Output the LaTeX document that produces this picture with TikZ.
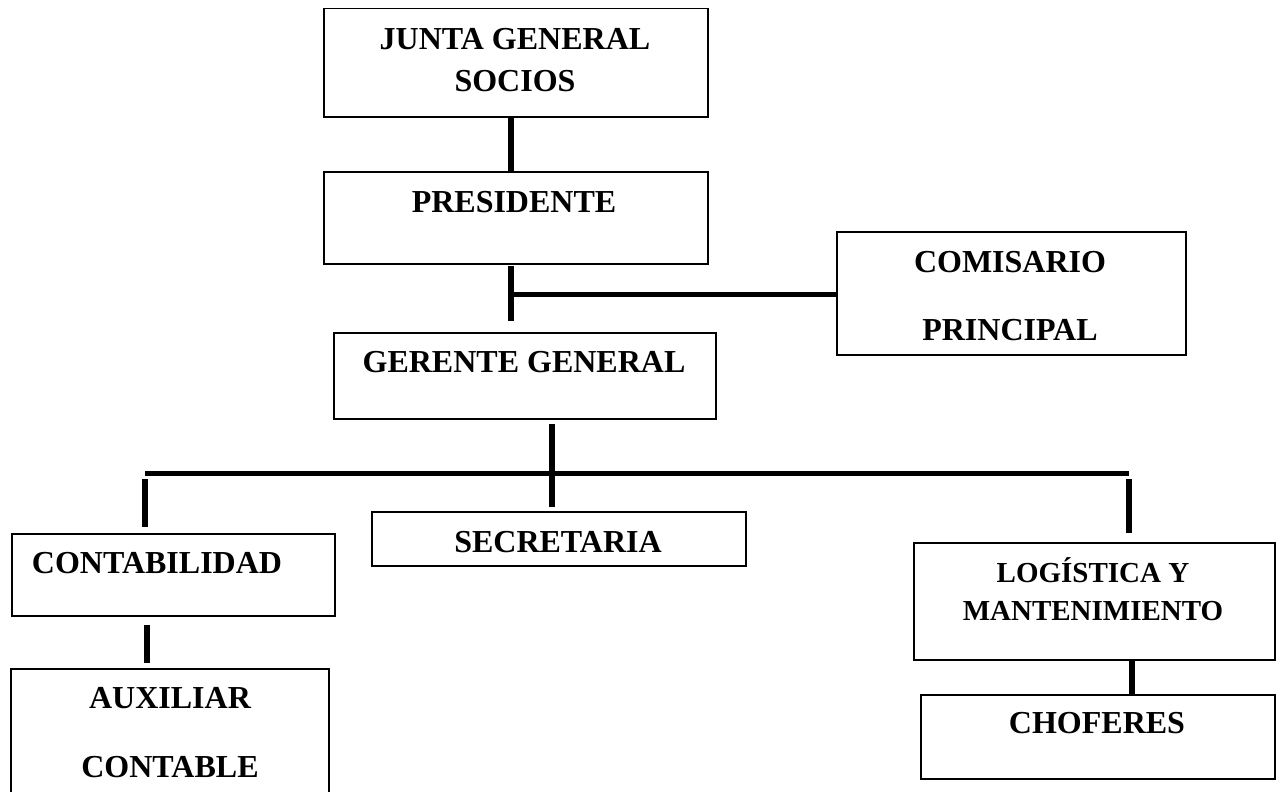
\documentclass[tikz,border=0pt]{standalone}
\usepackage{fontspec}
\setmainfont{Liberation Serif}
\usetikzlibrary{calc}
\begin{document}
\begin{tikzpicture}[x=1pt,y=-1pt]
\tikzset{
  box/.style={draw, line width=1.5pt, inner sep=0pt, anchor=north west},
  lbl/.style={anchor=base, inner sep=0pt, font=\fontsize{32}{36}\selectfont\bfseries},
  lbls/.style={anchor=base, inner sep=0pt, font=\fontsize{29}{33}\selectfont\bfseries},
  conn/.style={line width=5.5pt}
}
\clip (0,0) rectangle (1283,792);
\fill[white] (0,0) rectangle (1283,792);
% boxes
\node[box, minimum width=384pt, minimum height=108pt] (junta) at (323,8) {};
\node[box, minimum width=384pt, minimum height=92pt] (pres) at (323,171) {};
\node[box, minimum width=349pt, minimum height=123pt] (comis) at (836,231) {};
\node[box, minimum width=382pt, minimum height=86pt] (ger) at (333,332) {};
\node[box, minimum width=323pt, minimum height=82pt] (conta) at (11,533) {};
\node[box, minimum width=374pt, minimum height=54pt] (secre) at (371,511) {};
\node[box, minimum width=361pt, minimum height=117pt] (logis) at (913,542) {};
\node[box, minimum width=354pt, minimum height=84pt] (chof) at (920,694) {};
\node[box, minimum width=318pt, minimum height=140pt] (aux) at (10,668) {};
% texts
\node[lbl] (tj1) at (515,50) {JUNTA GENERAL};
\node[lbl] (tj2) at (515,92) {SOCIOS};
\node[lbl] (tp) at (514,212) {PRESIDENTE};
\node[lbl] (tc1) at (1010,272) {COMISARIO};
\node[lbl] (tc2) at (1010,340) {PRINCIPAL};
\node[lbl] (tg) at (524,372) {GERENTE GENERAL};
\node[lbl] (tco) at (157,573) {CONTABILIDAD};
\node[lbl] (ts) at (558,552) {SECRETARIA};
\node[lbls] (tl1) at (1093,582) {LOGÍSTICA Y};
\node[lbls] (tl2) at (1093,620) {MANTENIMIENTO};
\node[lbl] (tch) at (1097,733) {CHOFERES};
\node[lbl] (ta1) at (170,708) {AUXILIAR};
\node[lbl] (ta2) at (170,777) {CONTABLE};
% connector coordinates
\coordinate (xa) at (511,0);
\coordinate (p1) at (511,266);
\coordinate (p2) at (511,321);
\coordinate (pj) at (511,294.5);
\coordinate (g1) at (552,424);
\coordinate (g2) at (552,507);
\coordinate (bl) at (145,473.5);
\coordinate (br) at (1129,473.5);
\coordinate (d1a) at (145,479);
\coordinate (d1b) at (145,527);
\coordinate (d2a) at (1129,479);
\coordinate (d2b) at (1129,533);
\coordinate (xc) at (147,0);
\coordinate (xl) at (1132,0);
% connectors
\draw[conn] (junta.south -| xa) -- (pres.north -| xa);
\draw[conn] (p1) -- (p2);
\draw[conn] (pj) -- (comis.west |- pj);
\draw[conn] (g1) -- (g2);
\draw[conn] (bl) -- (br);
\draw[conn] (d1a) -- (d1b);
\draw[conn] (d2a) -- (d2b);
\draw[conn] ($(conta.south -| xc)+(0,8)$) -- ($(aux.north -| xc)+(0,-5)$);
\draw[conn] (logis.south -| xl) -- (chof.north -| xl);
\end{tikzpicture}
\end{document}
